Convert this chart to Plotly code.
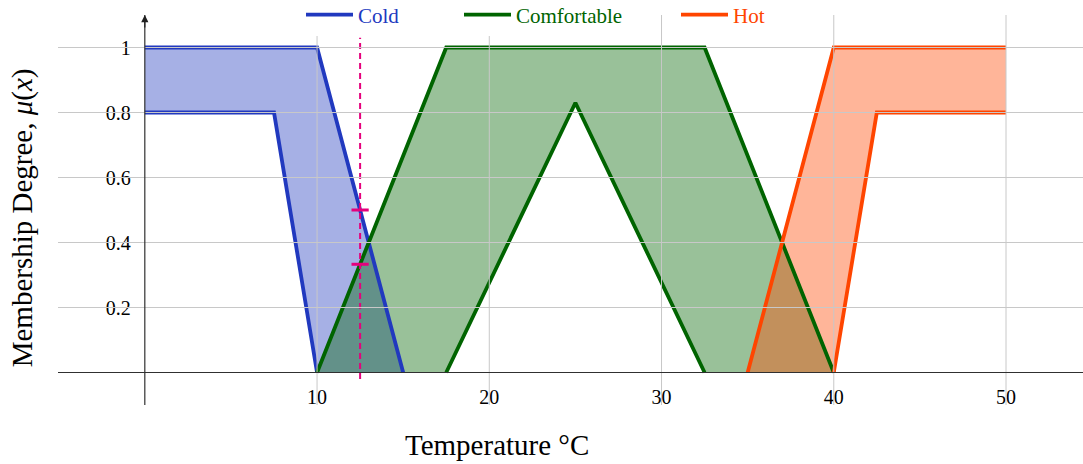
import plotly.graph_objects as go
import numpy as np

# ---------------- data ----------------
cold_upper_x = [0, 10, 15]
cold_upper_y = [1, 1, 0]
cold_lower_x = [0, 7.5, 10, 15]
cold_lower_y = [0.8, 0.8, 0, 0]

comf_upper_x = [10, 17.5, 32.5, 40]
comf_upper_y = [0, 1, 1, 0]
comf_lower_x = [10, 17.5, 25, 32.5, 40]
comf_lower_y = [0, 0, 0.83, 0, 0]

hot_upper_x = [35, 40, 50]
hot_upper_y = [0, 1, 1]
hot_lower_x = [35, 40, 42.5, 50]
hot_lower_y = [0, 0, 0.8, 0.8]

query_x = 12.5
query_levels = [0.5, 0.333]   # upper Cold / upper Comfortable at the query point

x_ticks = [10, 20, 30, 40, 50]
x_tick_labels = ["10", "20", "30", "40", "50"]
y_ticks = [0.2, 0.4, 0.6, 0.8, 1.0]
y_tick_labels = ["0.2", "0.4", "0.6", "0.8", "1"]

series_names = ["Cold", "Comfortable", "Hot"]
line_colors = ["#2139bf", "#006400", "#ff4500"]
fill_colors = ["rgba(33,57,191,0.4)", "rgba(0,100,0,0.4)", "rgba(255,69,0,0.4)"]

X_RANGE = [-5.04, 54.47]
Y_RANGE = [-0.1, 1.1]
SERIF = "Liberation Serif, Times New Roman, serif"


def trim_zero_runs(xs, ys):
    """Drop points lying on the x axis whose neighbours are also on the axis."""
    ox, oy = [], []
    n = len(xs)
    for i in range(n):
        keep = ys[i] > 0 or (i > 0 and ys[i - 1] > 0) or (i < n - 1 and ys[i + 1] > 0)
        if keep:
            ox.append(xs[i])
            oy.append(ys[i])
    return ox, oy


series = [
    (cold_upper_x, cold_upper_y, cold_lower_x, cold_lower_y),
    (comf_upper_x, comf_upper_y, comf_lower_x, comf_lower_y),
    (hot_upper_x, hot_upper_y, hot_lower_x, hot_lower_y),
]

fig = go.Figure()

# fills (footprint between upper and lower membership functions)
for (ux, uy, lx, ly), fc in zip(series, fill_colors):
    fig.add_trace(go.Scatter(
        x=list(ux) + list(lx)[::-1], y=list(uy) + list(ly)[::-1],
        fill="toself", fillcolor=fc, mode="lines", line=dict(width=0),
        showlegend=False, hoverinfo="skip"))

# lines
legend_ids = ["legend", "legend2", "legend3"]
for (ux, uy, lx, ly), name, lc, lid in zip(series, series_names, line_colors, legend_ids):
    ax_, ay_ = trim_zero_runs(ux, uy)
    fig.add_trace(go.Scatter(x=ax_, y=ay_, mode="lines", name=name,
                             line=dict(color=lc, width=3.8), legend=lid))
    bx_, by_ = trim_zero_runs(lx, ly)
    fig.add_trace(go.Scatter(x=bx_, y=by_, mode="lines", name=name,
                             line=dict(color=lc, width=3.8), legend=lid,
                             showlegend=False))

# query line and level marks
pink = "#e5007d"
fig.add_trace(go.Scatter(x=[query_x, query_x], y=[-0.02, 1.03], mode="lines",
                         line=dict(color=pink, width=2, dash="6px,4px"),
                         showlegend=False, hoverinfo="skip"))
for lev in query_levels:
    fig.add_trace(go.Scatter(x=[query_x - 0.5, query_x + 0.5], y=[lev, lev], mode="lines",
                             line=dict(color=pink, width=3), showlegend=False,
                             hoverinfo="skip"))

# grid lines drawn above the data (as in the reference)
grid_col = "#c8c8c8"
for gx in x_ticks:
    fig.add_vline(x=gx, line=dict(color=grid_col, width=1), layer="above")
for gy in y_ticks:
    fig.add_hline(y=gy, line=dict(color=grid_col, width=1), layer="above")
# axis lines
fig.add_hline(y=0, line=dict(color="#303030", width=1.2), layer="above")
fig.add_vline(x=0, line=dict(color="#303030", width=1.2), layer="above")

# arrow head on the y axis
fig.add_annotation(x=0, y=Y_RANGE[1], xref="x", yref="y", text="", showarrow=True,
                   ax=0, ay=14, axref="pixel", ayref="pixel", arrowhead=2,
                   arrowsize=1.2, arrowwidth=1.2, arrowcolor="#202020")

# axis titles
fig.add_annotation(x=0.428, y=-0.103, xref="paper", yref="paper",
                   text="Temperature °C", showarrow=False,
                   font=dict(family=SERIF, size=29, color="black"),
                   xanchor="center", yanchor="middle")
fig.add_annotation(x=-0.035, y=0.479, xref="paper", yref="paper",
                   text="Membership Degree, <i>μ</i>(<i>x</i>)", showarrow=False,
                   textangle=-90, font=dict(family=SERIF, size=29, color="black"),
                   xanchor="center", yanchor="middle")

x0_paper = (0 - X_RANGE[0]) / (X_RANGE[1] - X_RANGE[0])
y0_paper = (0 - Y_RANGE[0]) / (Y_RANGE[1] - Y_RANGE[0])

legend_common = dict(orientation="h", bgcolor="white", borderwidth=0,
                     yanchor="middle", y=1.0, xanchor="left", itemwidth=47,
                     xref="paper", yref="paper")
leg_x_px = [301, 459, 676]
fig.update_layout(
    width=1083, height=464,
    margin=dict(l=58, r=0, t=15, b=59, autoexpand=False),
    plot_bgcolor="white", paper_bgcolor="white",
    font=dict(family=SERIF, size=20, color="black"),
    xaxis=dict(range=X_RANGE, showgrid=False, zeroline=False, showline=False,
               tickmode="array", tickvals=x_ticks, ticktext=x_tick_labels,
               ticks="", anchor="free", position=y0_paper,
               tickfont=dict(family=SERIF, size=20, color="black"),
               ticklabelstandoff=10),
    yaxis=dict(range=Y_RANGE, showgrid=False, zeroline=False, showline=False,
               tickmode="array", tickvals=y_ticks, ticktext=y_tick_labels,
               ticks="", anchor="free", position=x0_paper,
               tickfont=dict(family=SERIF, size=20, color="black"),
               ticklabelstandoff=14),
    legend=dict(legend_common, x=(leg_x_px[0] - 58) / 1025,
                font=dict(family=SERIF, size=21, color=line_colors[0])),
    legend2=dict(legend_common, x=(leg_x_px[1] - 58) / 1025,
                 font=dict(family=SERIF, size=21, color=line_colors[1])),
    legend3=dict(legend_common, x=(leg_x_px[2] - 58) / 1025,
                 font=dict(family=SERIF, size=21, color=line_colors[2])),
    showlegend=True,
)

fig.write_html("out.html", config={"displayModeBar": False},
               post_script="document.body.style.margin='0';document.body.style.overflow='hidden';")
